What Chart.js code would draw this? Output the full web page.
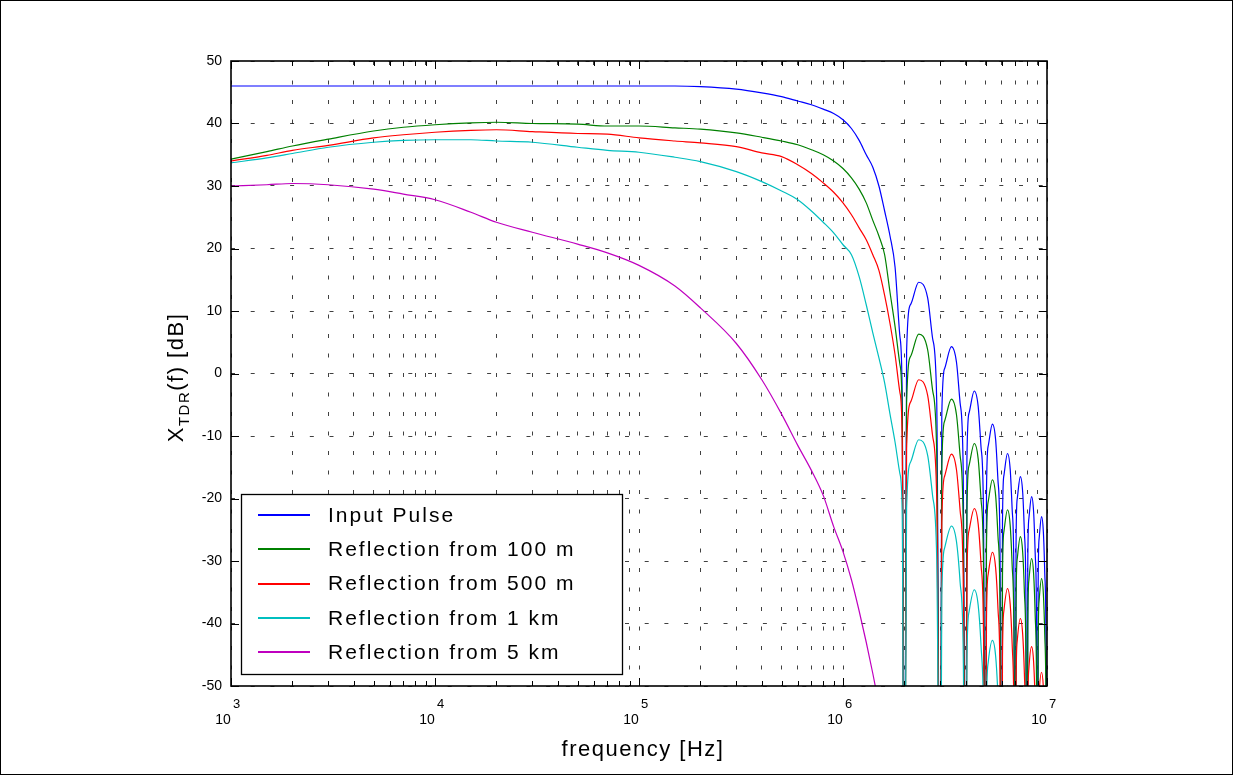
<!DOCTYPE html>
<html>
<head>
<meta charset="utf-8">
<title>TDR spectrum</title>
<script src="https://cdn.jsdelivr.net/npm/chart.js@4.4.1/dist/chart.umd.min.js"></script>
<style>
  html, body { margin: 0; padding: 0; background: #fff; }
  canvas { display: block; }
</style>
</head>
<body>
<canvas id="tdr" width="1233" height="775"></canvas>
<script>
const seriesNames = ['Input Pulse', 'Reflection from 100 m', 'Reflection from 500 m', 'Reflection from 1 km', 'Reflection from 5 km'];
const seriesColors = ['#0000ff', '#008000', '#ff0000', '#00bfbf', '#bf00bf'];

const xDecades = [3, 4, 5, 6, 7];
const yTicks = [-50, -40, -30, -20, -10, 0, 10, 20, 30, 40, 50];

// frequency samples, Hz
const freq = [
  1e3, 1.5e3, 2e3, 3e3, 5e3, 7e3,
  1e4, 1.5e4, 2e4, 3e4, 5e4, 7e4,
  1e5, 1.5e5, 2e5, 3e5, 4e5, 5e5, 6e5, 7e5, 8e5, 9e5,
  1e6, 1.1e6, 1.2e6, 1.3e6, 1.4e6, 1.5e6, 1.6e6, 1.7e6, 1.8e6, 1.9e6, 1.95e6,
  2e6, 2.05e6, 2.15e6, 2.35e6, 2.6e6, 2.75e6, 2.88e6,
  3e6, 3.05e6, 3.15e6, 3.4e6, 3.6e6, 3.75e6, 3.88e6,
  4e6, 4.05e6, 4.15e6, 4.4e6, 4.6e6, 4.75e6, 4.88e6,
  5e6, 5.05e6, 5.15e6, 5.4e6, 5.6e6, 5.75e6, 5.88e6,
  6e6, 6.05e6, 6.15e6, 6.4e6, 6.6e6, 6.75e6, 6.88e6,
  7e6, 7.05e6, 7.15e6, 7.4e6, 7.6e6, 7.75e6, 7.88e6,
  8e6, 8.05e6, 8.15e6, 8.4e6, 8.6e6, 8.75e6, 8.88e6,
  9e6, 9.05e6, 9.15e6, 9.4e6, 9.6e6, 9.75e6, 9.88e6,
  1e7
];

// spectra in dB, one value per frequency sample
const inputPulse = [
  46.0, 46.0, 46.0, 46.0, 46.0, 46.0,
  46.0, 46.0, 46.0, 46.0, 46.0, 46.0,
  46.0, 46.0, 45.9, 45.5, 44.9, 44.3, 43.6, 43.0, 42.3, 41.6,
  40.6, 39.2, 37.3, 35.0, 33.0, 30.0, 26.0, 22.0, 17.0, 6.0, -3.0,
  -90, 3.6, 11.1, 14.6, 12.1, 5.6, -4.4,
  -90, -6.7, 0.8, 4.3, 1.8, -4.7, -14.7,
  -90, -13.8, -6.3, -2.8, -5.3, -11.8, -21.8,
  -90, -19.1, -11.6, -8.1, -10.6, -17.1, -27.1,
  -90, -23.8, -16.3, -12.8, -15.3, -21.8, -31.8,
  -90, -27.5, -20.0, -16.5, -19.0, -25.5, -35.5,
  -90, -30.7, -23.2, -19.7, -22.2, -28.7, -38.7,
  -90, -33.9, -26.4, -22.9, -25.4, -31.9, -41.9,
  -90
];
const refl100m = [
  34.3, 35.5, 36.4, 37.5, 38.8, 39.4,
  39.8, 40.1, 40.2, 40.0, 39.9, 39.6,
  39.6, 39.3, 39.1, 38.5, 37.8, 37.2, 36.6, 35.8, 35.0, 34.0,
  32.8, 31.3, 29.5, 27.3, 24.5, 22.0, 19.0, 13.0, 7.5, 1.5, -6.0,
  -90, -4.7, 2.8, 6.3, 3.8, -2.7, -12.7,
  -90, -15.1, -7.6, -4.1, -6.6, -13.1, -23.1,
  -90, -22.2, -14.7, -11.2, -13.7, -20.2, -30.2,
  -90, -28.0, -20.5, -17.0, -19.5, -26.0, -36.0,
  -90, -32.8, -25.3, -21.8, -24.3, -30.8, -40.8,
  -90, -37.1, -29.6, -26.1, -28.6, -35.1, -45.1,
  -90, -40.6, -33.1, -29.6, -32.1, -38.6, -48.6,
  -90, -43.8, -36.3, -32.8, -35.3, -41.8, -51.8,
  -90
];
const refl500m = [
  34.0, 34.9, 35.7, 36.5, 37.7, 38.2,
  38.6, 38.9, 39.0, 38.7, 38.4, 38.3,
  37.7, 37.2, 36.9, 36.3, 35.3, 34.7, 33.4, 32.0, 30.5, 29.0,
  27.3, 25.4, 23.3, 21.4, 19.0, 16.5, 12.5, 8.0, 3.0, -3.0, -10.0,
  -90, -12.0, -4.5, -1.0, -3.5, -10.0, -20.0,
  -90, -23.9, -16.4, -12.9, -15.4, -21.9, -31.9,
  -90, -32.6, -25.1, -21.6, -24.1, -30.6, -40.6,
  -90, -39.6, -32.1, -28.6, -31.1, -37.6, -47.6,
  -90, -45.4, -37.9, -34.4, -36.9, -43.4, -53.4,
  -90, -50.2, -42.7, -39.2, -41.7, -48.2, -58.2,
  -90, -54.7, -47.2, -43.7, -46.2, -52.7, -62.7,
  -90, -58.8, -51.3, -47.8, -50.3, -56.8, -66.8,
  -90
];
const refl1km = [
  33.7, 34.5, 35.2, 36.2, 37.0, 37.3,
  37.4, 37.4, 37.2, 37.0, 36.2, 35.7,
  35.4, 34.6, 33.9, 32.3, 30.7, 29.2, 27.8, 26.0, 24.2, 22.5,
  20.6, 19.0, 15.5, 11.0, 6.5, 2.5, -1.5, -6.5, -11.0, -16.0, -22.0,
  -90, -21.6, -14.1, -10.6, -13.1, -19.6, -29.6,
  -90, -35.4, -27.9, -24.4, -26.9, -33.4, -43.4,
  -90, -45.6, -38.1, -34.6, -37.1, -43.6, -53.6,
  -90, -53.7, -46.2, -42.7, -45.2, -51.7, -61.7,
  -90, -61.0, -53.5, -50.0, -52.5, -59.0, -69.0,
  -90, -66.0, -58.5, -55.0, -57.5, -64.0, -74.0,
  -90, -70.0, -62.5, -59.0, -61.5, -68.0, -78.0,
  -90, -74.0, -66.5, -63.0, -65.5, -72.0, -82.0,
  -90
];
const refl5km = [
  30.0, 30.2, 30.4, 30.2, 29.5, 28.7,
  27.8, 25.8, 24.2, 22.6, 20.7, 19.3,
  17.3, 14.0, 10.5, 4.8, -1.0, -6.5, -11.5, -15.5, -19.5, -24.5,
  -28.5, -33.0, -38.0, -43.0, -48.0, -53.0, null, null, null, null, null,
  null, null, null, null, null, null, null,
  null, null, null, null, null, null, null,
  null, null, null, null, null, null, null,
  null, null, null, null, null, null, null,
  null, null, null, null, null, null, null,
  null, null, null, null, null, null, null,
  null, null, null, null, null, null, null,
  null, null, null, null, null, null, null,
  null
];

const seriesValues = [inputPulse, refl100m, refl500m, refl1km, refl5km];

// grid positions on the frequency axis: 1..9 times each decade
const xGridValues = [];
xDecades.forEach((d, i) => {
  const steps = i === xDecades.length - 1 ? [1] : [1, 2, 3, 4, 5, 6, 7, 8, 9];
  steps.forEach(m => xGridValues.push(m * Math.pow(10, d)));
});
const isDecade = v => Math.abs(Math.log10(v) - Math.round(Math.log10(v))) < 1e-9;

const FONT = '"Liberation Sans", Arial, Helvetica, sans-serif';

const datasets = seriesValues.map((vals, i) => ({
  label: seriesNames[i],
  data: freq.map((f, k) => ({ x: f, y: vals[k] })),
  borderColor: seriesColors[i],
  backgroundColor: seriesColors[i],
  borderWidth: 1.2,
  pointRadius: 0,
  cubicInterpolationMode: 'monotone',
  fill: false,
  spanGaps: false,
  order: seriesValues.length - i
}));

// axes box, inward ticks, tick labels, axis titles and legend
const decorations = {
  id: 'decorations',
  beforeDraw(chart) {
    const c = chart.ctx;
    c.save();
    c.fillStyle = '#fff';
    c.fillRect(0, 0, chart.width, chart.height);
    c.restore();
  },
  afterDraw(chart) {
    const c = chart.ctx;
    const a = chart.chartArea;
    const sx = chart.scales.x;
    const sy = chart.scales.y;
    c.save();

    c.strokeStyle = '#000';
    c.lineWidth = 1;
    c.strokeRect(0.5, 0.5, chart.width - 1, chart.height - 1);

    c.lineWidth = 1.6;
    c.strokeRect(a.left, a.top, a.right - a.left, a.bottom - a.top);

    c.lineWidth = 1;
    c.beginPath();
    xGridValues.forEach(v => {
      const x = Math.round(sx.getPixelForValue(v)) + 0.5;
      const len = isDecade(v) ? 8 : 5;
      c.moveTo(x, a.bottom); c.lineTo(x, a.bottom - len);
      c.moveTo(x, a.top); c.lineTo(x, a.top + len);
    });
    yTicks.forEach(v => {
      const y = Math.round(sy.getPixelForValue(v)) + 0.5;
      c.moveTo(a.left, y); c.lineTo(a.left + 8, y);
      c.moveTo(a.right, y); c.lineTo(a.right - 8, y);
    });
    c.stroke();

    // y tick labels
    c.fillStyle = '#000';
    c.font = '14px ' + FONT;
    c.textAlign = 'right';
    c.textBaseline = 'middle';
    yTicks.forEach(v => {
      c.fillText(String(v), a.left - 9, sy.getPixelForValue(v));
    });

    // x tick labels as powers of ten
    c.textBaseline = 'alphabetic';
    xDecades.forEach(d => {
      const x = sx.getPixelForValue(Math.pow(10, d));
      c.font = '14px ' + FONT;
      c.textAlign = 'center';
      c.fillText('10', x - 8, a.bottom + 38);
      c.font = '13px ' + FONT;
      c.textAlign = 'left';
      c.fillText(String(d), x + 2, a.bottom + 22);
    });

    // axis titles
    c.letterSpacing = '1.5px';
    c.font = '22px ' + FONT;
    c.textAlign = 'center';
    c.fillText('frequency [Hz]', (a.left + a.right) / 2 + 4, 756);

    c.save();
    c.translate(183, (a.top + a.bottom) / 2 + 4);
    c.rotate(-Math.PI / 2);
    c.textAlign = 'left';
    const big = '22px ' + FONT;
    const small = '15px ' + FONT;
    c.font = big;
    const wX = c.measureText('X').width;
    const wRest = c.measureText('(f) [dB]').width;
    c.font = small;
    const wSub = c.measureText('TDR').width;
    let tx = -(wX + wSub + wRest) / 2;
    c.font = big;
    c.fillText('X', tx, 0);
    tx += wX;
    c.font = small;
    c.fillText('TDR', tx, 6);
    tx += wSub;
    c.font = big;
    c.fillText('(f) [dB]', tx, 0);
    c.restore();

    // legend box
    const lx = 241, ly = 494, lw = 381, lh = 180;
    c.fillStyle = '#fff';
    c.fillRect(lx, ly, lw, lh);
    c.strokeStyle = '#000';
    c.lineWidth = 1.3;
    c.strokeRect(lx + 0.5, ly + 0.5, lw, lh);
    c.font = '21px ' + FONT;
    c.letterSpacing = '2px';
    c.textAlign = 'left';
    c.textBaseline = 'middle';
    chart.data.datasets.forEach((ds, i) => {
      const y = ly + 21 + i * 34.3;
      c.strokeStyle = ds.borderColor;
      c.lineWidth = 2;
      c.beginPath();
      c.moveTo(258, Math.round(y));
      c.lineTo(310, Math.round(y));
      c.stroke();
      c.fillStyle = '#000';
      c.fillText(ds.label, 328, y + 1);
    });

    c.restore();
  }
};

new Chart(document.getElementById('tdr'), {
  type: 'line',
  data: { datasets },
  options: {
    responsive: false,
    animation: false,
    events: [],
    layout: { padding: { left: 231, right: 186, top: 61, bottom: 89 } },
    plugins: { legend: { display: false }, tooltip: { enabled: false } },
    scales: {
      x: {
        type: 'logarithmic',
        min: 1e3,
        max: 1e7,
        afterBuildTicks: scale => { scale.ticks = xGridValues.map(v => ({ value: v })); },
        ticks: { display: false },
        grid: { color: 'rgba(0,0,0,0.75)', lineWidth: 1, drawTicks: false },
        border: { display: false, dash: [4, 15.5] }
      },
      y: {
        type: 'linear',
        min: -50,
        max: 50,
        afterBuildTicks: scale => { scale.ticks = yTicks.map(v => ({ value: v })); },
        ticks: { display: false },
        grid: { color: 'rgba(0,0,0,0.75)', lineWidth: 1, drawTicks: false },
        border: { display: false, dash: [4, 15.7] }
      }
    }
  },
  plugins: [decorations]
});
</script>
</body>
</html>
